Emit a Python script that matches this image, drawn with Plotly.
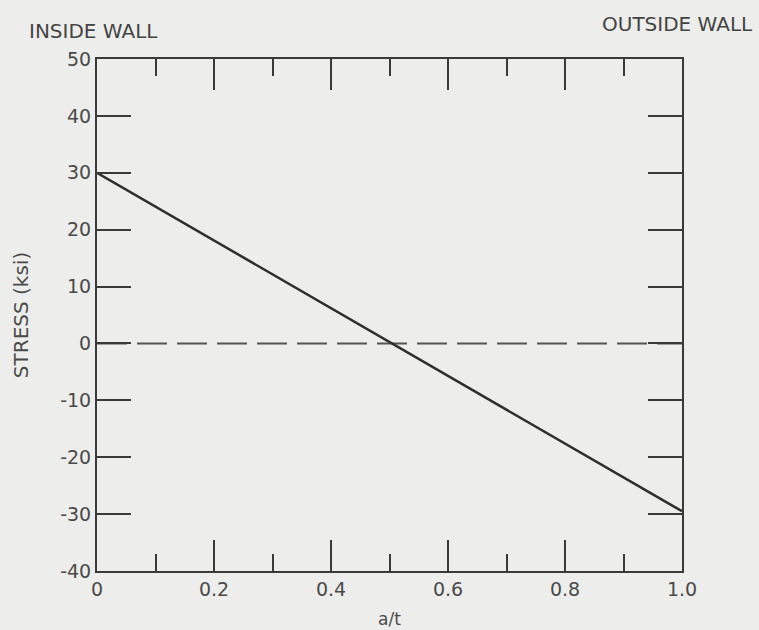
import plotly.graph_objects as go

# data
line_x = [0.0, 1.0]
line_y = [30.0, -29.5]
zero_x = [0.0, 1.0]
zero_y = [0.0, 0.0]
x_tickvals = [0, 0.2, 0.4, 0.6, 0.8, 1.0]
x_ticktext = ["0", "0.2", "0.4", "0.6", "0.8", "1.0"]
y_tickvals = [-40, -30, -20, -10, 0, 10, 20, 30, 40, 50]
y_ticktext = ["-40", "-30", "-20", "-10", "0", "10", "20", "30", "40", "50"]

ink = "#3a3a3a"
bg = "#ededeb"
font = "DejaVu Sans"

fig = go.Figure()
fig.add_trace(go.Scatter(x=zero_x, y=zero_y, mode="lines",
                         line=dict(color="#555555", width=2, dash="30px,10px"),
                         showlegend=False, hoverinfo="skip"))
fig.add_trace(go.Scatter(x=line_x, y=line_y, mode="lines",
                         line=dict(color="#2e2e2e", width=2.5),
                         showlegend=False))

fig.update_layout(
    width=759, height=630,
    margin=dict(l=97, r=77, t=59, b=59, autoexpand=False),
    paper_bgcolor=bg, plot_bgcolor=bg,
    font=dict(family=font, color=ink, size=19),
    xaxis=dict(range=[0, 1], tickvals=x_tickvals, ticktext=x_ticktext,
               ticks="inside", ticklen=31, tickwidth=1.5, tickcolor=ink,
               minor=dict(dtick=0.1, ticks="inside", ticklen=17, tickwidth=1.5, tickcolor=ink),
               showline=True, linecolor=ink, linewidth=2, mirror="ticks",
               showgrid=False, zeroline=False,
               tickfont=dict(size=19, color="#4a4a4a"),
               title=dict(text="a/t", standoff=14, font=dict(size=17, color="#4a4a4a")),
               automargin=False),
    yaxis=dict(range=[-40, 50], tickvals=y_tickvals, ticktext=y_ticktext,
               ticks="inside", ticklen=34, tickwidth=1.5, tickcolor=ink,
               showline=True, linecolor=ink, linewidth=2, mirror="ticks",
               showgrid=False, zeroline=False,
               tickfont=dict(size=19, color="#4a4a4a"),
               title=dict(text="STRESS (ksi)", standoff=26, font=dict(size=20, color="#4a4a4a")),
               automargin=False),
    annotations=[
        dict(text="INSIDE WALL", xref="paper", yref="paper", x=-0.1196, y=1.0,
             xanchor="left", yanchor="bottom", yshift=14, showarrow=False,
             font=dict(size=20, color="#444444")),
        dict(text="OUTSIDE WALL", xref="paper", yref="paper", x=1.0, y=1.0,
             xanchor="right", yanchor="bottom", xshift=73, yshift=21, showarrow=False,
             font=dict(size=20, color="#444444")),
    ],
)

fig.write_html("out.html", config={"displayModeBar": False},
               post_script="document.body.style.margin='0';")
